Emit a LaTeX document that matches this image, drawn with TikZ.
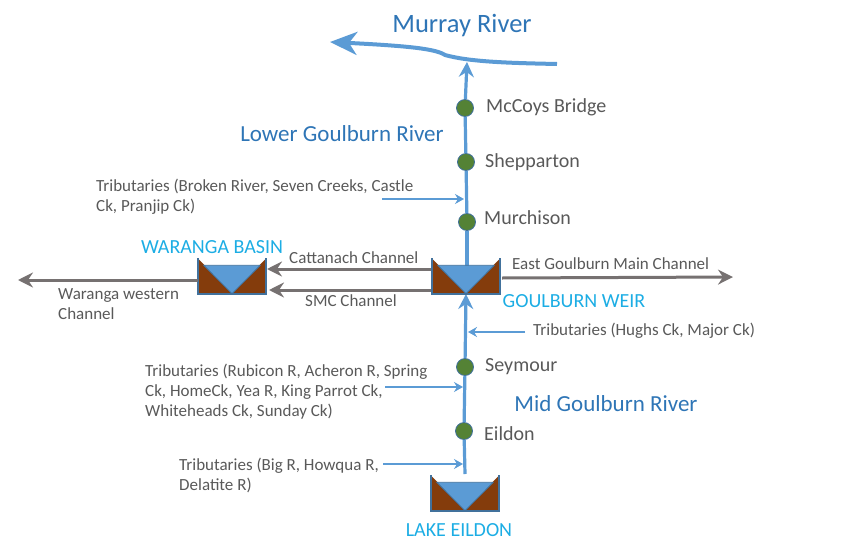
\documentclass[tikz,border=0pt]{standalone}
\usepackage{fontspec}
\setmainfont{Carlito}
\usepackage{xcolor}
\usetikzlibrary{arrows.meta, positioning}
\definecolor{cRiver}{RGB}{91,155,213}
\definecolor{cEdge}{RGB}{65,113,156}
\definecolor{cGauge}{RGB}{84,130,53}
\definecolor{cBank}{RGB}{132,60,12}
\definecolor{cChan}{RGB}{118,113,113}
\definecolor{cText}{RGB}{89,89,89}
\definecolor{cTitle}{RGB}{46,117,182}
\definecolor{cStore}{RGB}{28,173,228}
\tikzset{
	gauge/.style    ={circle, draw=cEdge, thick, fill=cGauge, minimum size=17pt, inner sep=0pt},
	basin/.style    ={rectangle, minimum width=68pt, minimum height=35pt, inner sep=0pt},
	lbl/.style      ={text=cText, anchor=west, align=left, inner sep=0pt, font=\fontsize{20}{24}\selectfont},
	small/.style    ={text=cText, anchor=west, align=left, inner sep=0pt, font=\fontsize{17}{20}\selectfont},
	reach/.style    ={text=cTitle, inner sep=0pt, font=\fontsize{23}{26}\selectfont},
	store/.style    ={text=cStore, inner sep=0pt, font=\fontsize{20}{24}\selectfont},
	river/.style    ={draw=cRiver, line width=3.2pt},
	riverarrow/.style={river, -{Stealth[length=15pt, width=15pt, inset=5pt]}},
	trib/.style     ={draw=cRiver, line width=1.5pt, -{Stealth[length=9pt, width=10pt, inset=3pt]}},
	chan/.style     ={draw=cChan, line width=3pt, -{Stealth[length=15pt, width=15pt, inset=5pt]}},
}
\begin{document}
\begin{tikzpicture}[x=1pt, y=-1pt]
	\useasboundingbox (0,0) rectangle (846,554);
	% storages
	\node[basin] (waranga) at (232,276) {};
	\node[basin] (weir) at (466,276) {};
	\node[basin] (eildon) at (465,493) {};
	% gauges
	\node[gauge] (mccoys) at (465,108) {};
	\node[gauge] (shepp) at (466,162) {};
	\node[gauge] (murch) at (467,222) {};
	\node[gauge] (seymour) at (465,367) {};
	\node[gauge] (eildong) at (464,431) {};
	% free ends
	\coordinate (murrayE) at (557,64);
	\coordinate (murrayW) at (330,42);
	\coordinate (mouth) at (467,62);
	\coordinate (weirIn) at (466,294);
	\coordinate (weirOut) at (467,266);
	\coordinate (eildonOut) at (465,474);
	\coordinate (brokenS) at (382,199);
	\coordinate (brokenE) at (464,199);
	\coordinate (hughsS) at (525,332);
	\coordinate (hughsE) at (468,332);
	\coordinate (rubiconS) at (385,387);
	\coordinate (rubiconE) at (463,387);
	\coordinate (bigS) at (383,464);
	\coordinate (bigE) at (463,464);
	\coordinate (cattS) at (432,269);
	\coordinate (cattE) at (267,269);
	\coordinate (smcS) at (432,290);
	\coordinate (smcE) at (269,290);
	\coordinate (westS) at (198,280);
	\coordinate (westE) at (18,280);
	\coordinate (eastS) at (502,278);
	\coordinate (eastE) at (733,277);
	% channels
	\draw[chan] (cattS) -- (cattE);
	\draw[chan] (smcS) -- (smcE);
	\draw[chan] (eastS) -- (eastE);
	% main stem
	\draw[river] (eildonOut) -- (eildong);
	\draw[river] (eildong) -- (seymour);
	\draw[riverarrow] (seymour) -- (weirIn);
	\draw[river] (weirOut) -- (murch);
	\draw[river] (murch) -- (shepp);
	\draw[river] (shepp) -- (mccoys);
	\draw[riverarrow] (mccoys) -- (mouth);
	\draw[draw=cRiver, line width=4pt, -{Stealth[length=27pt, width=23pt, inset=8pt]}] (murrayE) .. controls (510,63) and (470,62) .. (445,55) .. controls (436,49) and (410,46) .. (murrayW);
	% tributaries
	\draw[trib] (brokenS) -- (brokenE);
	\draw[trib] (hughsS) -- (hughsE);
	\draw[trib] (rubiconS) -- (rubiconE);
	\draw[trib] (bigS) -- (bigE);
	% storages go over the channel ends
	\foreach \b in {waranga,weir,eildon} {
		\fill[cBank] (\b.north west) -- (\b.south) -- (\b.north east) -- (\b.south east) -- (\b.south west) -- cycle;
		\draw[cEdge, line width=2.2pt, line join=miter] (\b.north west) -- (\b.south west) -- (\b.south east) -- (\b.north east);
		\fill[cRiver, draw=cEdge, line width=.8pt] ([xshift=6pt, yshift=-7pt]\b.north west) -- ([xshift=-6pt, yshift=-7pt]\b.north east) -- (\b.south) -- cycle;
	}
	\draw[chan] (westS) -- (westE);
	% labels
	\node[reach, font=\fontsize{26.5}{30}\selectfont] (murraylbl) at (462,26) {Murray River};
	\node[reach] (lowerlbl) at (342,134) {Lower Goulburn River};
	\node[reach] (midlbl) at (606,404) {Mid Goulburn River};
	\node[store] (warangalbl) at (212,247) {WARANGA BASIN};
	\node[store] (weirlbl) at (574,301) {GOULBURN WEIR};
	\node[store] (eildonlbl) at (459,530) {LAKE EILDON};
	\node[lbl] (mccoyslbl) at (486,107) {McCoys Bridge};
	\node[lbl] (shepplbl) at (485,162) {Shepparton};
	\node[lbl] (murchlbl) at (484,218) {Murchison};
	\node[lbl] (seymourlbl) at (485,367) {Seymour};
	\node[lbl] (eildonglbl) at (484,434) {Eildon};
	\node[small] (brokenlbl) at (96,197) {Tributaries (Broken River, Seven Creeks, Castle\\Ck, Pranjip Ck)};
	\node[small] (rubiconlbl) at (145,392) {Tributaries (Rubicon R, Acheron R, Spring\\Ck, HomeCk, Yea R, King Parrot Ck,\\Whiteheads Ck, Sunday Ck)};
	\node[small] (biglbl) at (179,475) {Tributaries (Big R, Howqua R,\\Delatite R)};
	\node[small] (hughslbl) at (533,331) {Tributaries (Hughs Ck, Major Ck)};
	\node[small] (cattlbl) at (289,258) {Cattanach Channel};
	\node[small] (smclbl) at (305,301) {SMC Channel};
	\node[small] (eastlbl) at (512,264) {East Goulburn Main Channel};
	\node[small] (westlbl) at (58,304) {Waranga western\\Channel};
\end{tikzpicture}
\end{document}
